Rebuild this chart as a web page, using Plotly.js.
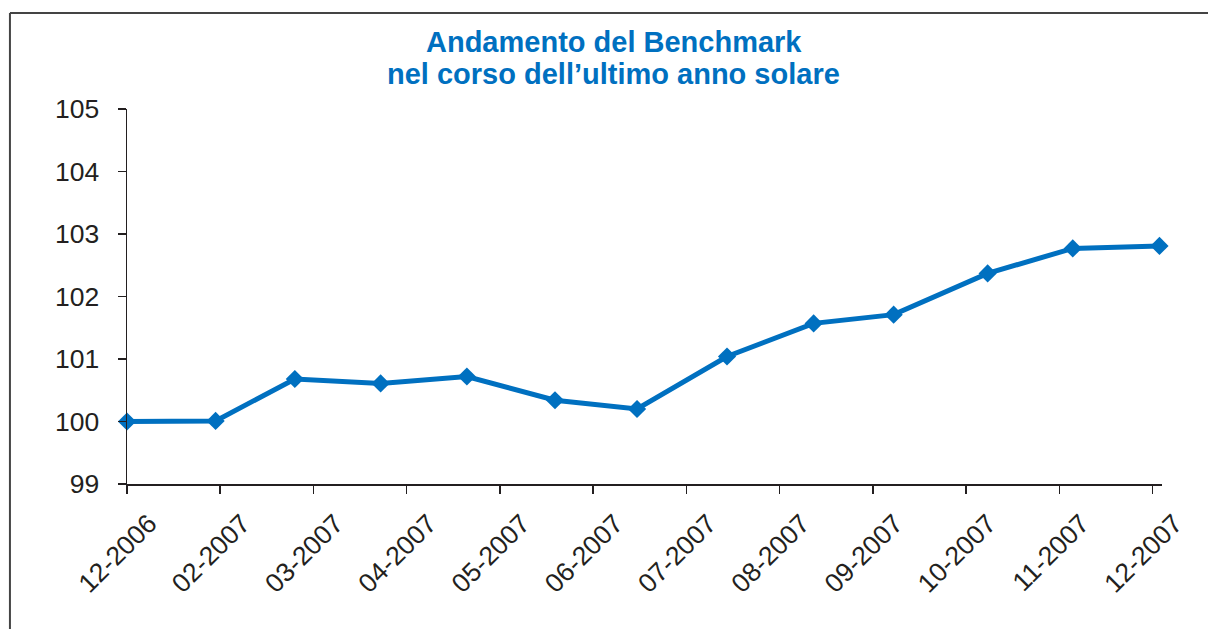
<!DOCTYPE html>
<html>
<head>
<meta charset="utf-8">
<script src="https://cdn.plot.ly/plotly-3.0.1.min.js"></script>
<style>
  html, body { margin: 0; padding: 0; background: #ffffff; }
  #chart { width: 1208px; height: 629px; }
</style>
</head>
<body>
<div id="chart"></div>
<script>
// Tick labels of the x axis and their positions (in month-tick units)
const tickLabels = ['12-2006','02-2007','03-2007','04-2007','05-2007','06-2007',
                    '07-2007','08-2007','09-2007','10-2007','11-2007','12-2007'];
const tickPositions = [0,1,2,3,4,5,6,7,8,9,10,11];

const obsPositions = [0, 0.95, 1.80, 2.72, 3.645, 4.59, 5.47, 6.435, 7.364, 8.222, 9.23, 10.143, 11.073];
// Benchmark values
const benchmark = [100.00, 100.01, 100.68, 100.61, 100.72, 100.34, 100.20, 101.04, 101.57, 101.71, 102.37, 102.77, 102.81];

const titleLine1 = 'Andamento del Benchmark';
const titleLine2 = 'nel corso dell\u2019ultimo anno solare';

const blue = '#0070c0';
const ink = '#231f20';
const fontFam = 'Liberation Sans, Arial, Helvetica, sans-serif';

const trace = {
  x: obsPositions,
  y: benchmark,
  type: 'scatter',
  mode: 'lines+markers',
  line: { color: blue, width: 5 },
  marker: { symbol: 'diamond', size: 14, color: blue },
  cliponaxis: false,
  hoverinfo: 'x+y'
};

const layout = {
  width: 1208,
  height: 629,
  margin: { l: 127, r: 46, t: 109, b: 145, pad: 0 },
  paper_bgcolor: '#ffffff',
  plot_bgcolor: '#ffffff',
  showlegend: false,
  font: { family: fontFam, color: ink, size: 26 },
  xaxis: {
    type: 'linear',
    range: [0, 11.1],
    tickmode: 'array',
    tickvals: tickPositions,
    ticktext: tickLabels,
    tickangle: -45,
    showgrid: false,
    zeroline: false,
    showline: true,
    linecolor: ink,
    linewidth: 1.5,
    ticks: 'outside',
    ticklen: 8,
    tickwidth: 1.5,
    tickcolor: ink,
    ticklabelshift: 22,
    ticklabelstandoff: 4,
    tickfont: { family: fontFam, size: 26.5, color: ink },
    fixedrange: true
  },
  yaxis: {
    range: [99, 105],
    tickmode: 'linear',
    tick0: 99,
    dtick: 1,
    showgrid: false,
    zeroline: false,
    showline: true,
    linecolor: ink,
    linewidth: 1.5,
    ticks: 'outside',
    ticklen: 8,
    tickwidth: 1.5,
    tickcolor: ink,
    ticklabelstandoff: 13,
    tickfont: { family: fontFam, size: 26.5, color: ink },
    fixedrange: true
  },
  annotations: [
    {
      text: '<b>' + titleLine1 + '</b>',
      xref: 'paper', yref: 'paper',
      x: 0.4705, y: 1.18,
      xanchor: 'center', yanchor: 'middle',
      showarrow: false,
      font: { family: fontFam, size: 29, color: blue }
    },
    {
      text: '<b>' + titleLine2 + '</b>',
      xref: 'paper', yref: 'paper',
      x: 0.4705, y: 1.094,
      xanchor: 'center', yanchor: 'middle',
      showarrow: false,
      font: { family: fontFam, size: 29, color: blue }
    }
  ],
  shapes: [
    { type: 'line', xref: 'paper', yref: 'paper', x0: -0.1131, x1: 1.05, y0: 1.2558, y1: 1.2558,
      line: { color: '#444444', width: 2 } },
    { type: 'line', xref: 'paper', yref: 'paper', x0: -0.1131, x1: -0.1131, y0: 1.2558, y1: -0.4,
      line: { color: '#444444', width: 2 } }
  ]
};

Plotly.newPlot('chart', [trace], layout, { displayModeBar: false, staticPlot: true });
</script>
</body>
</html>
